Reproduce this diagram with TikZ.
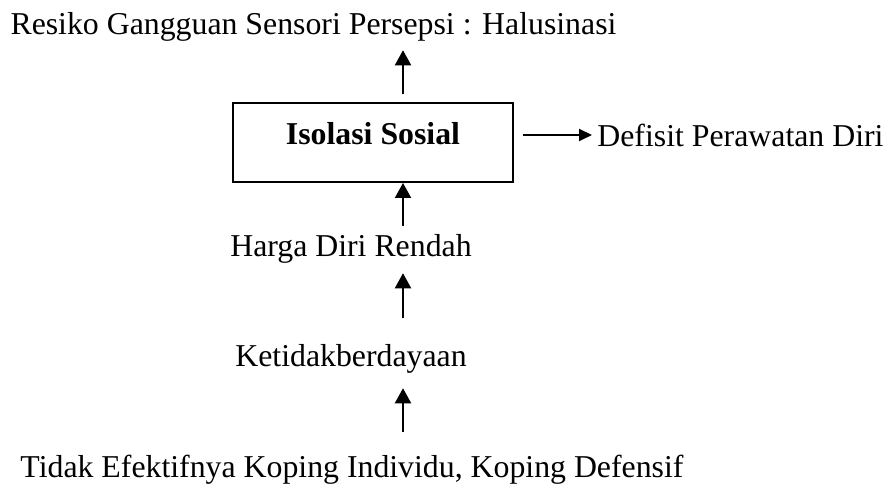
\documentclass[tikz,border=0pt]{standalone}
\usepackage{fontspec}
\setmainfont{Liberation Serif}
\usetikzlibrary{arrows.meta}
\begin{document}
\begin{tikzpicture}[x=0.5pt,y=-0.5pt,
  lbl/.style={inner sep=0pt,anchor=base,font=\fontsize{15.9pt}{19pt}\selectfont},
  boxnode/.style={draw,line width=1pt,minimum width=140pt,minimum height=39.5pt,inner sep=0pt,
    font=\fontsize{15.9pt}{19pt}\selectfont\bfseries,text height=10.9pt,text depth=8.4pt},
  uparr/.style={line width=1pt,-{Triangle[length=7.5pt,width=8pt]}},
  rarr/.style={line width=1pt,-{Triangle[length=6.5pt,width=6pt]}}]
\useasboundingbox (0,0) rectangle (890,485);
\coordinate (col) at (403,0);
\coordinate (hr) at (0,135);
\node[lbl] (top) at (313.5,35) {Resiko Gangguan Sensori Persepsi : Halusinasi};
\node[boxnode] (box) at (373,142.5) {Isolasi Sosial};
\node[lbl,anchor=base west] (def) at (597,147) {Defisit Perawatan Diri};
\node[lbl] (hdr) at (351,257) {Harga Diri Rendah};
\node[lbl] (ket) at (351,367) {Ketidakberdayaan};
\node[lbl] (tek) at (352,478) {Tidak Efektifnya Koping Individu, Koping Defensif};
\draw[uparr,shorten <=4pt,shorten >=4pt] (box.north -| col) -- (top.south -| col);
\draw[rarr,shorten <=4.5pt,shorten >=2.5pt] (box.east |- hr) -- (def.west |- hr);
\draw[uparr,shorten <=4.5pt] (hdr.north -| col) -- (box.south -| col);
\draw[uparr,shorten <=13.5pt,shorten >=4.5pt] (ket.north -| col) -- (hdr.south -| col);
\draw[uparr,shorten <=11.5pt,shorten >=7pt] (tek.north -| col) -- (ket.south -| col);
\end{tikzpicture}
\end{document}
